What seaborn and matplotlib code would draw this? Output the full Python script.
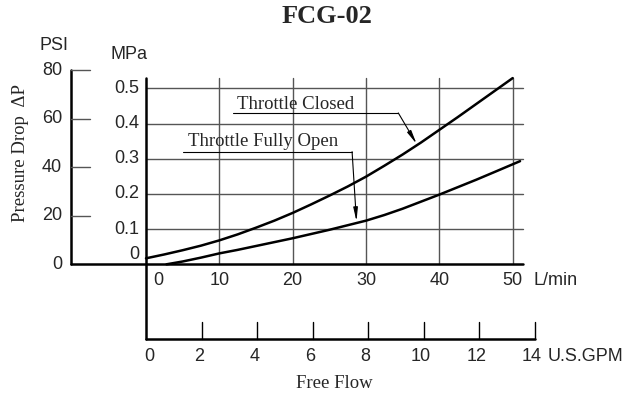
import numpy as np
import pandas as pd
import matplotlib
matplotlib.use('Agg')
import matplotlib.pyplot as plt
import seaborn as sns

# curve data (flow in L/min, pressure drop in MPa)
closed_flow = [0, 2.5, 5, 7.5, 10, 12.5, 15, 17.5, 20, 22.5, 25, 27.5, 30,
               32.5, 35, 37.5, 40, 42.5, 45, 47.5, 50]
closed_mpa = [0.017, 0.028, 0.040, 0.053, 0.068, 0.085, 0.104, 0.124, 0.146, 0.170,
              0.195, 0.221, 0.249, 0.280, 0.312, 0.346, 0.382, 0.418, 0.455, 0.492, 0.529]
open_flow = [2.8, 5, 7.5, 10, 12.5, 15, 17.5, 20, 22.5, 25, 27.5, 30,
             32.5, 35, 37.5, 40, 42.5, 45, 47.5, 51]
open_mpa = [0.0, 0.008, 0.019, 0.031, 0.041, 0.052, 0.063, 0.074, 0.086, 0.098,
            0.111, 0.124, 0.140, 0.158, 0.178, 0.198, 0.219, 0.240, 0.262, 0.293]

lmin_ticks = [0, 10, 20, 30, 40, 50]
mpa_ticks = [0, 0.1, 0.2, 0.3, 0.4, 0.5]
psi_ticks = [0, 20, 40, 60, 80]
gpm_ticks = [0, 2, 4, 6, 8, 10, 12, 14]

PSI_TO_MPA = 0.00689476
GPM_TO_LMIN = 3.78541

sns.set_style('white')
serif = ['Liberation Serif', 'DejaVu Serif']
sans = ['Liberation Sans', 'DejaVu Sans']
plt.rcParams['font.family'] = sans
fs = 13

fig = plt.figure(figsize=(6.42, 3.97), dpi=100)
ax = fig.add_axes([0, 0, 1, 1])
ax.axis('off')
# whole figure is one data space: x in L/min, y in MPa
ax.set_xlim(-146 / 7.334, (642 - 146) / 7.334)
ax.set_ylim((264.3 - 397) / 352, 264.3 / 352)

grid_col = '#555555'
x_end = 51.4
y_top = 0.53
psi_x = -10.27
gpm_y = -0.213

# grid
for t in lmin_ticks[1:]:
    ax.plot([t, t], [0, y_top], color=grid_col, lw=1.0)
for t in mpa_ticks[1:]:
    ax.plot([0, x_end], [t, t], color=grid_col, lw=1.0)

# axes lines
ax.plot([0, 0], [gpm_y, y_top], color='k', lw=1.8)
ax.plot([psi_x, x_end], [0, 0], color='k', lw=1.8)
ax.plot([psi_x, psi_x], [0, psi_ticks[-1] * PSI_TO_MPA], color='k', lw=1.8)
ax.plot([0, gpm_ticks[-1] * GPM_TO_LMIN], [gpm_y, gpm_y], color='k', lw=1.8)

# PSI ticks and labels
for p in psi_ticks:
    yv = p * PSI_TO_MPA
    if p > 0:
        ax.plot([psi_x, psi_x + 2.63], [yv, yv], color=grid_col, lw=1.0)
    ax.text(psi_x - 1.2, yv, str(p), ha='right', va='center', fontsize=fs)

# MPa labels
for m in mpa_ticks:
    yv = m if m > 0 else 0.029
    ax.text(-0.95, yv, '0' if m == 0 else f'{m:.1f}', ha='right', va='center', fontsize=fs)

# L/min labels
for t in lmin_ticks:
    xv = t if t > 0 else 1.64
    ax.text(xv, -0.0466, str(t), ha='center', va='center', fontsize=fs)
ax.text(52.8, -0.0466, 'L/min', ha='left', va='center', fontsize=fs)

# GPM ticks and labels
for g in gpm_ticks:
    xv = g * GPM_TO_LMIN
    if g > 0:
        ax.plot([xv, xv], [gpm_y, gpm_y + 0.05], color='k', lw=1.0)
    ax.text(xv - 0.35 if g > 0 else 0.48, -0.2625, str(g), ha='center', va='center', fontsize=fs)
ax.text(54.7, -0.2625, 'U.S.GPM', ha='left', va='center', fontsize=fs)

ax.text(-12.5, 0.623, 'PSI', ha='center', va='center', fontsize=fs)
ax.text(-2.3, 0.595, 'MPa', ha='center', va='center', fontsize=fs)

# curves
df = pd.concat([
    pd.DataFrame({'flow': closed_flow, 'mpa': closed_mpa, 'curve': 'Throttle Closed'}),
    pd.DataFrame({'flow': open_flow, 'mpa': open_mpa, 'curve': 'Throttle Fully Open'}),
])
sns.lineplot(data=df, x='flow', y='mpa', units='curve', estimator=None,
             color='k', lw=1.8, ax=ax, legend=False)

# callouts
arrow = dict(arrowstyle='-|>,head_length=0.8,head_width=0.13', color='k', lw=0.8,
             shrinkA=0, shrinkB=0)
ax.text(12.35, 0.455, 'Throttle Closed', family=serif, fontsize=13.5, ha='left', va='center')
ax.plot([11.9, 34.4], [0.430, 0.430], color='k', lw=0.8)
ax.annotate('', xy=(36.9, 0.342), xytext=(34.4, 0.430), arrowprops=arrow)

ax.text(5.73, 0.348, 'Throttle Fully Open', family=serif, fontsize=13.5, ha='left', va='center')
ax.plot([5.0, 28.1], [0.320, 0.320], color='k', lw=0.8)
ax.annotate('', xy=(28.7, 0.122), xytext=(28.1, 0.320), arrowprops=arrow)

# titles
ax.text(24.64, 0.7026, 'FCG-02', family=serif, fontsize=19, fontweight='bold',
        ha='center', va='center')
ax.text(-17.18, 0.316, 'Pressure Drop  ΔP', family=serif, fontsize=13.5, rotation=90,
        ha='center', va='center')
ax.text(25.73, -0.338, 'Free Flow', family=serif, fontsize=13.5, ha='center', va='center')

fig.savefig('out.png', dpi=100)
